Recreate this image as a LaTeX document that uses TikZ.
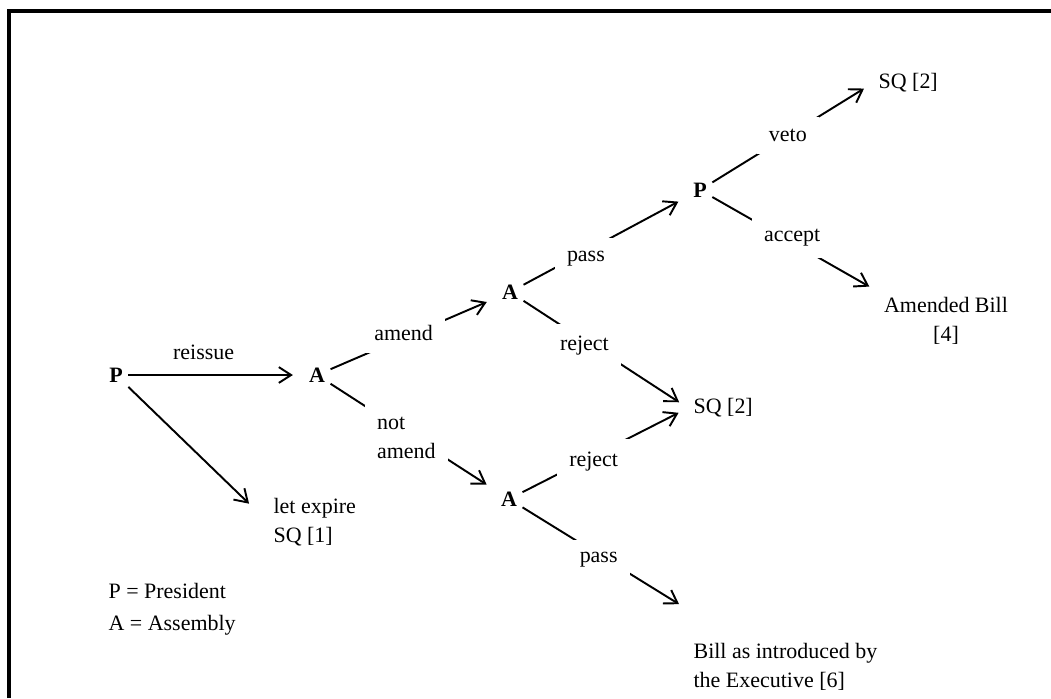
\documentclass[tikz,border=0pt]{standalone}
\usepackage{fontspec}
\setmainfont{Liberation Serif}
\usetikzlibrary{arrows.meta}

% 字号
\def\txt{\fontsize{12.5}{16.5}\selectfont}

\tikzset{
	player/.style={font=\txt\bfseries, inner sep=3pt},
	result/.style={inner sep=3pt, align=left},
	lbl/.style={fill=white, inner sep=7pt, align=left},
	move/.style={line width=1.1pt, -{Straight Barb[length=7pt,width=9pt]}, shorten >=6pt},
}

\begin{document}
\begin{tikzpicture}[x=0.02cm, y=-0.02cm, font=\txt]
	
	% 画布范围
	\useasboundingbox (0,0) rectangle (1051,698);
	
	% 边框（左边和上边）
	\draw[line width=2pt] (9,698) -- (9,11) -- (1051,11);
	
	% 决策节点
	\node[player] (P1) at (116,375) {P};
	\node[player] (A1) at (317,375) {A};
	\node[player] (A2) at (510,292) {A};
	\node[player] (A3) at (509,499) {A};
	\node[player] (P2) at (700,190) {P};
	
	% 结果
	\node[result, anchor=west] (expire) at (268,522) {let expire\\SQ [1]};
	\node[result, anchor=west] (sqveto) at (873,83) {SQ [2]};
	\node[result, align=center] (amended) at (946,321) {Amended Bill\\{[4]}};
	\node[result, anchor=west] (sqreject) at (688,408) {SQ [2]};
	\node[result, anchor=west] (bill) at (688,667) {Bill as introduced by\\the Executive [6]};
	
	% 图例
	\node[result, anchor=west] (legend) at (103,609) {P = President\\[2pt]A = Assembly};
	
	% 第一步：总统
	\draw[move] (P1) -- node[above=5pt, pos=0.43] {reissue} (A1);
	\draw[move, shorten >=15pt] (P1) -- (expire.west);
	
	% 第二步：议会修改与否
	\draw[move] (A1) -- node[lbl, pos=0.44, yshift=3pt] {amend} (A2);
	\draw[move] (A1) -- node[lbl, pos=0.46, yshift=-3pt] {not\\amend} (A3);
	
	% 第三步：议会表决
	\draw[move] (A2) -- node[lbl, pos=0.38, yshift=-4pt] {pass} (P2);
	\draw[move] (A2) -- node[lbl, pos=0.37, yshift=-3pt] {reject} (sqreject.west);
	\draw[move] (A3) -- node[lbl, pos=0.43, yshift=-3pt] {reject} (sqreject.west);
	\draw[move] (A3) -- node[lbl, pos=0.46, yshift=-3pt] {pass} ([yshift=16pt]bill.north west);
	
	% 第四步：总统否决或接受
	\draw[move] (P2) -- node[lbl, pos=0.47] {veto} (sqveto.west);
	\draw[move] (P2) -- node[lbl, pos=0.48, yshift=3pt] {accept} (amended.north west);
	
\end{tikzpicture}
\end{document}
